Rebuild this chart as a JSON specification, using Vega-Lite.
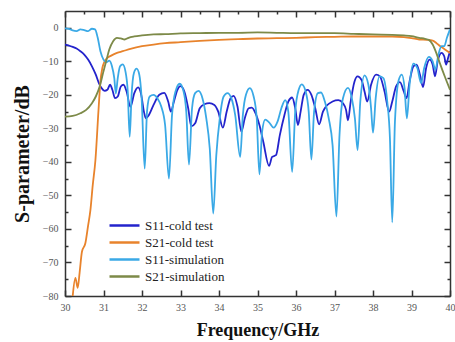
{
"$schema":"https://vega.github.io/schema/vega-lite/v6.json",
"width":385,"height":285,
"autosize":{"type":"none"},
"padding":{"left":65,"top":11,"right":5,"bottom":46},
"background":"white",
"config":{"view":{"stroke":null},"font":"Liberation Serif"},
"data":{"values":[
{"s":"S11-cold test","f":30.0,"v":-5},{"s":"S11-cold test","f":30.1,"v":-5.3},{"s":"S11-cold test","f":30.2,"v":-5.7},{"s":"S11-cold test","f":30.3,"v":-6.2},{"s":"S11-cold test","f":30.4,"v":-7},{"s":"S11-cold test","f":30.5,"v":-8},{"s":"S11-cold test","f":30.6,"v":-9.5},{"s":"S11-cold test","f":30.7,"v":-11.5},{"s":"S11-cold test","f":30.8,"v":-14},{"s":"S11-cold test","f":30.88,"v":-16.5},{"s":"S11-cold test","f":30.95,"v":-18},{"s":"S11-cold test","f":31.03,"v":-18.8},{"s":"S11-cold test","f":31.1,"v":-18.5},{"s":"S11-cold test","f":31.17,"v":-17},{"s":"S11-cold test","f":31.23,"v":-18.5},{"s":"S11-cold test","f":31.3,"v":-21},{"s":"S11-cold test","f":31.37,"v":-20.5},{"s":"S11-cold test","f":31.45,"v":-17.5},{"s":"S11-cold test","f":31.52,"v":-17},{"s":"S11-cold test","f":31.6,"v":-19},{"s":"S11-cold test","f":31.7,"v":-23.6},{"s":"S11-cold test","f":31.8,"v":-19.5},{"s":"S11-cold test","f":31.9,"v":-17.8},{"s":"S11-cold test","f":31.98,"v":-20},{"s":"S11-cold test","f":32.05,"v":-25},{"s":"S11-cold test","f":32.1,"v":-27},{"s":"S11-cold test","f":32.18,"v":-26},{"s":"S11-cold test","f":32.3,"v":-23},{"s":"S11-cold test","f":32.45,"v":-20},{"s":"S11-cold test","f":32.58,"v":-19.4},{"s":"S11-cold test","f":32.68,"v":-22},{"s":"S11-cold test","f":32.75,"v":-25},{"s":"S11-cold test","f":32.83,"v":-22},{"s":"S11-cold test","f":32.92,"v":-18.5},{"s":"S11-cold test","f":33.0,"v":-17.4},{"s":"S11-cold test","f":33.1,"v":-19},{"s":"S11-cold test","f":33.2,"v":-24},{"s":"S11-cold test","f":33.28,"v":-29.4},{"s":"S11-cold test","f":33.38,"v":-28.5},{"s":"S11-cold test","f":33.5,"v":-24},{"s":"S11-cold test","f":33.62,"v":-22.8},{"s":"S11-cold test","f":33.75,"v":-22.5},{"s":"S11-cold test","f":33.88,"v":-23},{"s":"S11-cold test","f":33.98,"v":-25},{"s":"S11-cold test","f":34.1,"v":-29.8},{"s":"S11-cold test","f":34.2,"v":-25},{"s":"S11-cold test","f":34.3,"v":-21},{"s":"S11-cold test","f":34.38,"v":-20.3},{"s":"S11-cold test","f":34.48,"v":-23.5},{"s":"S11-cold test","f":34.58,"v":-31},{"s":"S11-cold test","f":34.67,"v":-27},{"s":"S11-cold test","f":34.77,"v":-24},{"s":"S11-cold test","f":34.85,"v":-23.8},{"s":"S11-cold test","f":34.95,"v":-25.5},{"s":"S11-cold test","f":35.05,"v":-29},{"s":"S11-cold test","f":35.15,"v":-34},{"s":"S11-cold test","f":35.3,"v":-41.2},{"s":"S11-cold test","f":35.38,"v":-38.5},{"s":"S11-cold test","f":35.48,"v":-38},{"s":"S11-cold test","f":35.58,"v":-32},{"s":"S11-cold test","f":35.7,"v":-26},{"s":"S11-cold test","f":35.8,"v":-22},{"s":"S11-cold test","f":35.9,"v":-20.8},{"s":"S11-cold test","f":35.98,"v":-24},{"s":"S11-cold test","f":36.05,"v":-29},{"s":"S11-cold test","f":36.12,"v":-25},{"s":"S11-cold test","f":36.2,"v":-20},{"s":"S11-cold test","f":36.3,"v":-18.5},{"s":"S11-cold test","f":36.4,"v":-20},{"s":"S11-cold test","f":36.5,"v":-24},{"s":"S11-cold test","f":36.6,"v":-28.8},{"s":"S11-cold test","f":36.7,"v":-25},{"s":"S11-cold test","f":36.8,"v":-23.2},{"s":"S11-cold test","f":36.95,"v":-22},{"s":"S11-cold test","f":37.1,"v":-21.6},{"s":"S11-cold test","f":37.22,"v":-22.5},{"s":"S11-cold test","f":37.3,"v":-24.5},{"s":"S11-cold test","f":37.35,"v":-27.6},{"s":"S11-cold test","f":37.42,"v":-22},{"s":"S11-cold test","f":37.52,"v":-16},{"s":"S11-cold test","f":37.6,"v":-14.5},{"s":"S11-cold test","f":37.7,"v":-15.5},{"s":"S11-cold test","f":37.78,"v":-19},{"s":"S11-cold test","f":37.85,"v":-22},{"s":"S11-cold test","f":37.95,"v":-17},{"s":"S11-cold test","f":38.08,"v":-14},{"s":"S11-cold test","f":38.18,"v":-14.5},{"s":"S11-cold test","f":38.3,"v":-19},{"s":"S11-cold test","f":38.42,"v":-25},{"s":"S11-cold test","f":38.5,"v":-22},{"s":"S11-cold test","f":38.6,"v":-17.5},{"s":"S11-cold test","f":38.7,"v":-16.2},{"s":"S11-cold test","f":38.8,"v":-19},{"s":"S11-cold test","f":38.87,"v":-21},{"s":"S11-cold test","f":38.95,"v":-16},{"s":"S11-cold test","f":39.05,"v":-11.5},{"s":"S11-cold test","f":39.13,"v":-11},{"s":"S11-cold test","f":39.22,"v":-14},{"s":"S11-cold test","f":39.3,"v":-17.7},{"s":"S11-cold test","f":39.38,"v":-12},{"s":"S11-cold test","f":39.47,"v":-9.5},{"s":"S11-cold test","f":39.55,"v":-11},{"s":"S11-cold test","f":39.61,"v":-14.5},{"s":"S11-cold test","f":39.68,"v":-10},{"s":"S11-cold test","f":39.78,"v":-7.5},{"s":"S11-cold test","f":39.85,"v":-8.5},{"s":"S11-cold test","f":39.9,"v":-11},{"s":"S11-cold test","f":39.95,"v":-9},{"s":"S11-cold test","f":40.0,"v":-7},
{"s":"S21-cold test","f":30.2,"v":-80},{"s":"S21-cold test","f":30.27,"v":-74.6},{"s":"S21-cold test","f":30.33,"v":-77.6},{"s":"S21-cold test","f":30.38,"v":-73},{"s":"S21-cold test","f":30.44,"v":-66.8},{"s":"S21-cold test","f":30.53,"v":-64.2},{"s":"S21-cold test","f":30.6,"v":-59},{"s":"S21-cold test","f":30.66,"v":-54.4},{"s":"S21-cold test","f":30.72,"v":-47},{"s":"S21-cold test","f":30.79,"v":-39.5},{"s":"S21-cold test","f":30.87,"v":-24.6},{"s":"S21-cold test","f":30.92,"v":-16},{"s":"S21-cold test","f":30.97,"v":-12},{"s":"S21-cold test","f":31.03,"v":-10},{"s":"S21-cold test","f":31.1,"v":-9},{"s":"S21-cold test","f":31.2,"v":-8.3},{"s":"S21-cold test","f":31.35,"v":-7.5},{"s":"S21-cold test","f":31.5,"v":-7},{"s":"S21-cold test","f":31.7,"v":-6.3},{"s":"S21-cold test","f":32.0,"v":-5.5},{"s":"S21-cold test","f":32.3,"v":-5},{"s":"S21-cold test","f":32.6,"v":-4.6},{"s":"S21-cold test","f":33.0,"v":-4.3},{"s":"S21-cold test","f":33.5,"v":-3.9},{"s":"S21-cold test","f":34.0,"v":-3.6},{"s":"S21-cold test","f":34.5,"v":-3.4},{"s":"S21-cold test","f":35.0,"v":-3.2},{"s":"S21-cold test","f":35.5,"v":-3.1},{"s":"S21-cold test","f":36.0,"v":-3.0},{"s":"S21-cold test","f":36.5,"v":-2.8},{"s":"S21-cold test","f":37.0,"v":-2.7},{"s":"S21-cold test","f":37.5,"v":-2.6},{"s":"S21-cold test","f":38.0,"v":-2.6},{"s":"S21-cold test","f":38.5,"v":-2.6},{"s":"S21-cold test","f":38.8,"v":-2.8},{"s":"S21-cold test","f":39.0,"v":-3.1},{"s":"S21-cold test","f":39.2,"v":-3.5},{"s":"S21-cold test","f":39.4,"v":-3.6},{"s":"S21-cold test","f":39.55,"v":-3.8},{"s":"S21-cold test","f":39.65,"v":-4.6},{"s":"S21-cold test","f":39.75,"v":-5.5},{"s":"S21-cold test","f":39.85,"v":-6.3},{"s":"S21-cold test","f":40.0,"v":-7.5},
{"s":"S11-simulation","f":30.0,"v":-0.2},{"s":"S11-simulation","f":30.1,"v":-0.3},{"s":"S11-simulation","f":30.2,"v":-0.8},{"s":"S11-simulation","f":30.3,"v":-1.0},{"s":"S11-simulation","f":30.4,"v":-0.5},{"s":"S11-simulation","f":30.5,"v":-0.7},{"s":"S11-simulation","f":30.6,"v":-1.0},{"s":"S11-simulation","f":30.7,"v":-0.3},{"s":"S11-simulation","f":30.78,"v":-0.5},{"s":"S11-simulation","f":30.85,"v":-3},{"s":"S11-simulation","f":30.92,"v":-7},{"s":"S11-simulation","f":31.0,"v":-9.5},{"s":"S11-simulation","f":31.08,"v":-10.3},{"s":"S11-simulation","f":31.15,"v":-9.8},{"s":"S11-simulation","f":31.22,"v":-11.5},{"s":"S11-simulation","f":31.28,"v":-15},{"s":"S11-simulation","f":31.32,"v":-19.6},{"s":"S11-simulation","f":31.37,"v":-15},{"s":"S11-simulation","f":31.43,"v":-11.5},{"s":"S11-simulation","f":31.5,"v":-10.9},{"s":"S11-simulation","f":31.57,"v":-13},{"s":"S11-simulation","f":31.63,"v":-19},{"s":"S11-simulation","f":31.68,"v":-32.5},{"s":"S11-simulation","f":31.73,"v":-20},{"s":"S11-simulation","f":31.79,"v":-13.5},{"s":"S11-simulation","f":31.86,"v":-12.2},{"s":"S11-simulation","f":31.93,"v":-14},{"s":"S11-simulation","f":31.99,"v":-21},{"s":"S11-simulation","f":32.07,"v":-42},{"s":"S11-simulation","f":32.13,"v":-25},{"s":"S11-simulation","f":32.2,"v":-20.5},{"s":"S11-simulation","f":32.3,"v":-20},{"s":"S11-simulation","f":32.4,"v":-21},{"s":"S11-simulation","f":32.5,"v":-23.5},{"s":"S11-simulation","f":32.6,"v":-29},{"s":"S11-simulation","f":32.7,"v":-45},{"s":"S11-simulation","f":32.78,"v":-26},{"s":"S11-simulation","f":32.87,"v":-19},{"s":"S11-simulation","f":32.98,"v":-16.7},{"s":"S11-simulation","f":33.08,"v":-19},{"s":"S11-simulation","f":33.15,"v":-25},{"s":"S11-simulation","f":33.22,"v":-40.8},{"s":"S11-simulation","f":33.3,"v":-24},{"s":"S11-simulation","f":33.38,"v":-19.5},{"s":"S11-simulation","f":33.47,"v":-18.8},{"s":"S11-simulation","f":33.57,"v":-21},{"s":"S11-simulation","f":33.67,"v":-27},{"s":"S11-simulation","f":33.76,"v":-36},{"s":"S11-simulation","f":33.85,"v":-55.4},{"s":"S11-simulation","f":33.93,"v":-38},{"s":"S11-simulation","f":34.02,"v":-27},{"s":"S11-simulation","f":34.12,"v":-20.5},{"s":"S11-simulation","f":34.22,"v":-19.5},{"s":"S11-simulation","f":34.32,"v":-21},{"s":"S11-simulation","f":34.42,"v":-26},{"s":"S11-simulation","f":34.55,"v":-38.5},{"s":"S11-simulation","f":34.62,"v":-26},{"s":"S11-simulation","f":34.7,"v":-20},{"s":"S11-simulation","f":34.8,"v":-18},{"s":"S11-simulation","f":34.9,"v":-20.5},{"s":"S11-simulation","f":34.98,"v":-27},{"s":"S11-simulation","f":35.05,"v":-43.7},{"s":"S11-simulation","f":35.12,"v":-31},{"s":"S11-simulation","f":35.2,"v":-27.4},{"s":"S11-simulation","f":35.3,"v":-28.2},{"s":"S11-simulation","f":35.42,"v":-29.8},{"s":"S11-simulation","f":35.52,"v":-28},{"s":"S11-simulation","f":35.62,"v":-24},{"s":"S11-simulation","f":35.72,"v":-21.6},{"s":"S11-simulation","f":35.8,"v":-25},{"s":"S11-simulation","f":35.9,"v":-43},{"s":"S11-simulation","f":35.98,"v":-25},{"s":"S11-simulation","f":36.07,"v":-18.5},{"s":"S11-simulation","f":36.15,"v":-16.9},{"s":"S11-simulation","f":36.25,"v":-19},{"s":"S11-simulation","f":36.33,"v":-25},{"s":"S11-simulation","f":36.4,"v":-39.3},{"s":"S11-simulation","f":36.47,"v":-25},{"s":"S11-simulation","f":36.57,"v":-19.5},{"s":"S11-simulation","f":36.65,"v":-19.3},{"s":"S11-simulation","f":36.75,"v":-22},{"s":"S11-simulation","f":36.85,"v":-27},{"s":"S11-simulation","f":36.95,"v":-35},{"s":"S11-simulation","f":37.05,"v":-56.3},{"s":"S11-simulation","f":37.13,"v":-32},{"s":"S11-simulation","f":37.22,"v":-21},{"s":"S11-simulation","f":37.35,"v":-17.9},{"s":"S11-simulation","f":37.45,"v":-21},{"s":"S11-simulation","f":37.53,"v":-27},{"s":"S11-simulation","f":37.6,"v":-36.5},{"s":"S11-simulation","f":37.67,"v":-22},{"s":"S11-simulation","f":37.78,"v":-14.2},{"s":"S11-simulation","f":37.88,"v":-17},{"s":"S11-simulation","f":37.95,"v":-24},{"s":"S11-simulation","f":38.0,"v":-31.3},{"s":"S11-simulation","f":38.07,"v":-21},{"s":"S11-simulation","f":38.17,"v":-14.5},{"s":"S11-simulation","f":38.27,"v":-15},{"s":"S11-simulation","f":38.37,"v":-22},{"s":"S11-simulation","f":38.44,"v":-33},{"s":"S11-simulation","f":38.5,"v":-58},{"s":"S11-simulation","f":38.57,"v":-28},{"s":"S11-simulation","f":38.67,"v":-15.5},{"s":"S11-simulation","f":38.75,"v":-14},{"s":"S11-simulation","f":38.82,"v":-18},{"s":"S11-simulation","f":38.88,"v":-27},{"s":"S11-simulation","f":38.95,"v":-17},{"s":"S11-simulation","f":39.05,"v":-10.7},{"s":"S11-simulation","f":39.15,"v":-12},{"s":"S11-simulation","f":39.25,"v":-16.5},{"s":"S11-simulation","f":39.33,"v":-12},{"s":"S11-simulation","f":39.45,"v":-8.7},{"s":"S11-simulation","f":39.55,"v":-10},{"s":"S11-simulation","f":39.62,"v":-12.5},{"s":"S11-simulation","f":39.7,"v":-8},{"s":"S11-simulation","f":39.78,"v":-5.5},{"s":"S11-simulation","f":39.85,"v":-5.5},{"s":"S11-simulation","f":39.92,"v":-3},{"s":"S11-simulation","f":40.0,"v":-0.5},
{"s":"S21-simulation","f":30.0,"v":-26.5},{"s":"S21-simulation","f":30.2,"v":-26.3},{"s":"S21-simulation","f":30.4,"v":-25.5},{"s":"S21-simulation","f":30.55,"v":-24.5},{"s":"S21-simulation","f":30.7,"v":-22.5},{"s":"S21-simulation","f":30.8,"v":-20.5},{"s":"S21-simulation","f":30.9,"v":-17.5},{"s":"S21-simulation","f":31.0,"v":-13},{"s":"S21-simulation","f":31.08,"v":-9.5},{"s":"S21-simulation","f":31.15,"v":-6.5},{"s":"S21-simulation","f":31.25,"v":-4},{"s":"S21-simulation","f":31.35,"v":-3},{"s":"S21-simulation","f":31.45,"v":-3.2},{"s":"S21-simulation","f":31.55,"v":-3.5},{"s":"S21-simulation","f":31.65,"v":-3},{"s":"S21-simulation","f":31.8,"v":-2.6},{"s":"S21-simulation","f":32.0,"v":-2.3},{"s":"S21-simulation","f":32.3,"v":-2.0},{"s":"S21-simulation","f":32.6,"v":-1.9},{"s":"S21-simulation","f":33.0,"v":-1.7},{"s":"S21-simulation","f":33.5,"v":-1.6},{"s":"S21-simulation","f":34.0,"v":-1.5},{"s":"S21-simulation","f":34.5,"v":-1.5},{"s":"S21-simulation","f":35.0,"v":-1.4},{"s":"S21-simulation","f":35.5,"v":-1.5},{"s":"S21-simulation","f":36.0,"v":-1.6},{"s":"S21-simulation","f":36.5,"v":-1.6},{"s":"S21-simulation","f":37.0,"v":-1.6},{"s":"S21-simulation","f":37.5,"v":-1.8},{"s":"S21-simulation","f":38.0,"v":-2.0},{"s":"S21-simulation","f":38.5,"v":-2.1},{"s":"S21-simulation","f":38.8,"v":-2.3},{"s":"S21-simulation","f":39.0,"v":-2.5},{"s":"S21-simulation","f":39.2,"v":-3.0},{"s":"S21-simulation","f":39.35,"v":-3.3},{"s":"S21-simulation","f":39.45,"v":-3.6},{"s":"S21-simulation","f":39.55,"v":-5},{"s":"S21-simulation","f":39.65,"v":-7.7},{"s":"S21-simulation","f":39.75,"v":-11},{"s":"S21-simulation","f":39.87,"v":-14.7},{"s":"S21-simulation","f":40.0,"v":-18.5}
]},
"layer":[
{"mark":{"type":"line","interpolate":"monotone","clip":true,"strokeWidth":1.8},
 "encoding":{
  "x":{"field":"f","type":"quantitative","scale":{"domain":[30,40],"nice":false,"zero":false},
   "axis":{"title":"Frequency/GHz","titleFont":"Liberation Serif","titleFontSize":18,"titleFontWeight":"bold","titleColor":"#111","titlePadding":9,
    "values":[30,30.5,31,31.5,32,32.5,33,33.5,34,34.5,35,35.5,36,36.5,37,37.5,38,38.5,39,39.5,40],"format":"d",
    "labelExpr":"datum.value % 1 === 0 ? datum.label : ''","labelFont":"Liberation Serif","labelFontSize":10,"labelColor":"#555","labelPadding":12,
    "tickSize":{"condition":{"test":"datum.value % 1 === 0","value":-6},"value":-3},"tickColor":"#333","tickWidth":1.5,
    "domainColor":"#333","domainWidth":1.5,"grid":false,"labelFlush":false}},
  "y":{"field":"v","type":"quantitative","scale":{"domain":[-80,5],"nice":false,"zero":false},
   "axis":{"title":"S-parameter/dB","titleFont":"Liberation Serif","titleFontSize":20,"titleFontWeight":"bold","titleColor":"#111","titlePadding":10,
    "values":[-80,-75,-70,-65,-60,-55,-50,-45,-40,-35,-30,-25,-20,-15,-10,-5,0],"format":"d",
    "labelExpr":"datum.value % 10 === 0 ? datum.label : ''","labelFont":"Liberation Serif","labelFontSize":10,"labelColor":"#555","labelPadding":13,
    "tickSize":{"condition":{"test":"datum.value % 10 === 0","value":-6},"value":-3},"tickColor":"#333","tickWidth":1.5,
    "domainColor":"#333","domainWidth":1.5,"grid":false}},
  "color":{"field":"s","type":"nominal",
   "scale":{"domain":["S11-cold test","S21-cold test","S11-simulation","S21-simulation"],"range":["#2323cc","#e8832c","#3aa9e6","#7d8a48"]},
   "legend":{"title":null,"orient":"none","legendX":53,"legendY":208,"symbolType":"M-3,0H3","symbolSize":100,"symbolStrokeWidth":2.5,"symbolFillColor":"transparent",
    "labelFont":"Liberation Serif","labelFontSize":13,"labelColor":"#222","rowPadding":3,"labelOffset":14}}
 }},
{"mark":{"type":"line","opacity":0},
 "encoding":{
  "x":{"field":"f","type":"quantitative","axis":{"orient":"top","labels":false,"title":null,
    "values":[30,30.5,31,31.5,32,32.5,33,33.5,34,34.5,35,35.5,36,36.5,37,37.5,38,38.5,39,39.5,40],
    "tickSize":{"condition":{"test":"datum.value % 1 === 0","value":-6},"value":-3},"tickColor":"#333","tickWidth":1.5,"domainColor":"#333","domainWidth":1.5,"grid":false}},
  "y":{"field":"v","type":"quantitative","axis":{"orient":"right","labels":false,"title":null,
    "values":[-80,-75,-70,-65,-60,-55,-50,-45,-40,-35,-30,-25,-20,-15,-10,-5,0],
    "tickSize":{"condition":{"test":"datum.value % 10 === 0","value":-6},"value":-3},"tickColor":"#333","tickWidth":1.5,"domainColor":"#333","domainWidth":1.5,"grid":false}},
  "detail":{"field":"s"}
 }}
],
"resolve":{"axis":{"x":"independent","y":"independent"}}
}
